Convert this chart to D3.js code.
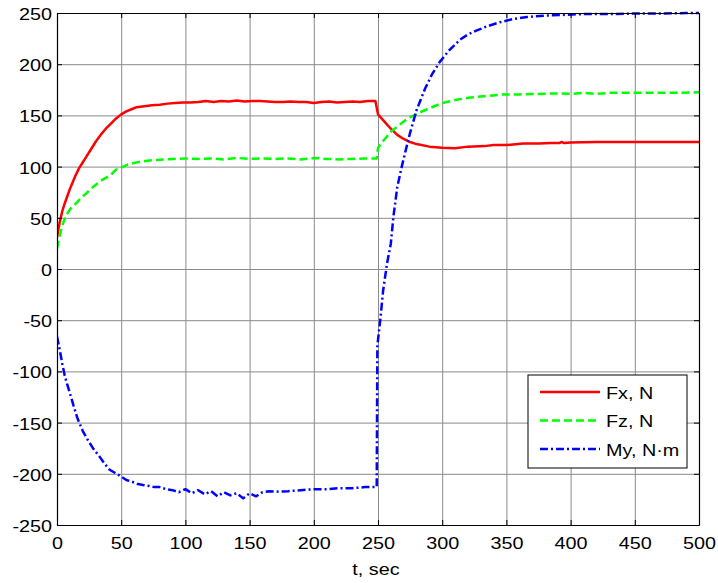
<!DOCTYPE html>
<html><head><meta charset="utf-8">
<script src="https://cdn.jsdelivr.net/npm/d3@7"></script>
<style>
html,body{margin:0;padding:0;background:#fff;}
svg{display:block;}
text{font-family:"Liberation Sans",Arial,sans-serif;font-size:16.5px;fill:#000;}
</style></head>
<body><svg id="c" width="718" height="583"></svg>
<script>
// ---- data ----
const xTicks = [0,50,100,150,200,250,300,350,400,450,500];
const yTicks = [-250,-200,-150,-100,-50,0,50,100,150,200,250];
const seriesNames = ["Fx, N","Fz, N","My, N\u00b7m"];

const tFx = [0,2,4,6,8,10,12,14,17,20,23,26,30,34,38,42,46,50,54,58,62,68,74,80,86,92,98,104,110,116,122,128,134,140,146,152,158,164,170,176,182,188,194,200,206,212,218,224,230,236,242,248,250,255,260,265,270,275,280,290,300,310,320,333,340,350,363,375,385,391,393,395,400,420,450,480,500];
const vFx = [31,45,56,64,71,78,84,90,98,104,110,116,124,131,137,142,147,151,154,156,158,159,160,160.5,161.5,162,162.5,162.5,163,164,163,164,163.5,164.5,163.5,164,164,163.5,163,163,163.5,163,163,162,163,163.5,162.5,163,163.5,163,164,164,151,144,137,131,127,124,122,119.5,118.5,118,119.5,120,121,121,122.5,122.5,123,123,124,123,123.5,124,124,124,124];

const tFz = [0,2,4,6,8,10,12,14,17,20,23,26,30,34,38,42,46,50,55,60,66,72,78,84,90,100,110,120,130,140,150,160,170,180,190,200,210,220,230,240,249,250,252,256,260,265,270,275,281,290,300,310,322,335,347,360,375,390,400,410,420,430,450,475,500];
const vFz = [20,32,42,49,54,58,61,63,67,71,74,78,82,86,89,92,97,99,102,103.5,105,106,106.5,107,107.5,108,107.5,108,107,108.5,107.5,108,107.5,108,107,108.5,107.5,107,107.5,108,108,118,122,128,134,139,144,148,152,157,162,165,167.5,169,170.5,170.5,171,171.5,171,172,171,172,172,172,172.5];

const tMy = [0,2,4,6,8,10,13,16,20,24,28,33,37,41,45,49,54,59,63,67,72,76,80,85,90,95,100,105,110,115,120,125,130,135,140,145,150,155,160,165,170,180,190,200,210,220,230,240,248,249,249.5,252,254,257,260,262,265,268.5,272,275,280,286.6,292,298,305,314,320,327,335,345,355,366,380,392,410,430,450,470,490,500];
const vMy = [-66,-78,-92,-104,-113,-121,-134,-146,-158,-167,-175,-183,-190,-196,-199,-202,-206,-208,-210,-211,-212,-213,-213,-215,-216,-218,-215,-219,-216,-220,-217,-222,-218,-221,-219,-224,-219,-222,-218,-217,-217.5,-217,-216,-215,-215,-214,-214,-213,-213,-213,-75,-47,-21,5,25,51,80,100,118,133,155,176,190,202,213,224,229,233,237,241,244,246,247.5,248,249,249,249.5,249.5,250,250];

// ---- layout ----
const L = 57, T = 13, W = 642, H = 512;
const svg = d3.select("#c");
const x = d3.scaleLinear().domain([0,500]).range([L, L+W]);
const y = d3.scaleLinear().domain([-250,250]).range([T+H, T]);
const SX = 1.2;
const fmt = d => String(d);

// grid
const gx = svg.append("g").attr("transform",`translate(0,${T+H})`)
  .call(d3.axisBottom(x).tickValues(xTicks).tickSize(-H).tickFormat(""));
const gy = svg.append("g").attr("transform",`translate(${L},0)`)
  .call(d3.axisLeft(y).tickValues(yTicks).tickSize(-W).tickFormat(""));
[gx,gy].forEach(g=>{g.select(".domain").remove();
  g.selectAll("line").attr("stroke","#8a8a8a").attr("stroke-width",1);});

// lines
const colors = ["#ff0000","#00ff00","#0000ff"];
const dashes = [null,"8,4","8,3,2,3"];
const data = [[tFx,vFx],[tFz,vFz],[tMy,vMy]];
const line = d3.line().x(d=>x(d[0])).y(d=>y(d[1]));
svg.append("clipPath").attr("id","clp").append("rect")
  .attr("x",L).attr("y",T-2).attr("width",W).attr("height",H+4);
data.forEach((d,i)=>{
  const pts = d[0].map((t,j)=>[t,d[1][j]]);
  svg.append("path").attr("d",line(pts)).attr("fill","none")
    .attr("stroke",colors[i]).attr("stroke-width",2.5)
    .attr("stroke-dasharray",dashes[i]).attr("stroke-linejoin","round")
    .attr("clip-path","url(#clp)");
});

// axes (inward ticks on all sides)
function styleAxis(g){g.selectAll(".domain").attr("stroke","#000").attr("stroke-width",1.2);
  g.selectAll(".tick line").attr("stroke","#000").attr("stroke-width",1);}
const ab = svg.append("g").attr("transform",`translate(0,${T+H})`)
  .call(d3.axisBottom(x).tickValues(xTicks).tickFormat(fmt).tickSize(-5).tickSizeOuter(0).tickPadding(0));
const at = svg.append("g").attr("transform",`translate(0,${T})`)
  .call(d3.axisTop(x).tickValues(xTicks).tickSize(-5).tickSizeOuter(0).tickFormat(""));
const al = svg.append("g").attr("transform",`translate(${L},0)`)
  .call(d3.axisLeft(y).tickValues(yTicks).tickFormat(fmt).tickSize(-5).tickSizeOuter(0).tickPadding(0));
const ar = svg.append("g").attr("transform",`translate(${L+W},0)`)
  .call(d3.axisRight(y).tickValues(yTicks).tickSize(-5).tickSizeOuter(0).tickFormat(""));
[ab,at,al,ar].forEach(styleAxis);
[ab,at,al,ar].forEach(g=>g.attr("font-family",null).attr("font-size",null));
ab.selectAll(".tick text").attr("y",null).attr("dy",null).attr("fill","#000")
  .attr("text-anchor","middle").attr("transform",`translate(0,24) scale(${SX},1)`);
al.selectAll(".tick text").attr("x",null).attr("dy",null).attr("fill","#000")
  .attr("text-anchor","end").attr("transform",`translate(-5,6.5) scale(${SX},1)`);

// x label
svg.append("text").attr("text-anchor","middle")
  .attr("transform",`translate(${L+W/2-2},575) scale(${SX},1)`).text("t, sec");

// legend
const lg = svg.append("g");
lg.append("rect").attr("x",528).attr("y",375).attr("width",159).attr("height",93)
  .attr("fill","#fff").attr("stroke","#000").attr("stroke-width",1);
seriesNames.forEach((n,i)=>{
  const yy = 392 + i*28.5;
  lg.append("line").attr("x1",540).attr("x2",600).attr("y1",yy).attr("y2",yy)
    .attr("stroke",colors[i]).attr("stroke-width",2.5).attr("stroke-dasharray",dashes[i]);
  lg.append("text").attr("transform",`translate(606,${yy+6.5}) scale(${SX},1)`).text(n);
});
</script></body></html>
